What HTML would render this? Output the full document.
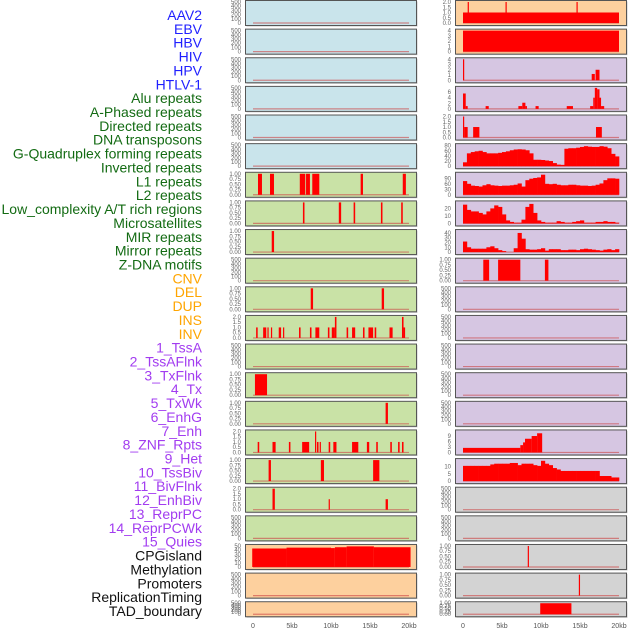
<!DOCTYPE html>
<html><head><meta charset="utf-8">
<style>
html,body{margin:0;padding:0;background:#fff;}
svg{display:block;font-family:"Liberation Sans",sans-serif;}
</style></head>
<body>
<svg id="chart" width="630" height="630" viewBox="0 0 630 630" xmlns="http://www.w3.org/2000/svg"></svg>
<script>
const labels = ["AAV2","EBV","HBV","HIV","HPV","HTLV-1","Alu repeats","A-Phased repeats","Directed repeats","DNA transposons","G-Quadruplex forming repeats","Inverted repeats","L1 repeats","L2 repeats","Low_complexity A/T rich regions","Microsatellites","MIR repeats","Mirror repeats","Z-DNA motifs","CNV","DEL","DUP","INS","INV","1_TssA","2_TssAFlnk","3_TxFlnk","4_Tx","5_TxWk","6_EnhG","7_Enh","8_ZNF_Rpts","9_Het","10_TssBiv","11_BivFlnk","12_EnhBiv","13_ReprPC","14_ReprPCWk","15_Quies","CPGisland","Methylation","Promoters","ReplicationTiming","TAD_boundary"];
const labelGroups = [6,13,5,15,5];
const groupColors = ["#1f1fff","#136b13","#ffa500","#a23cf0","#111111"];
const xTicks = [0,5,10,15,20];
const xTickLabels = ["0","5kb","10kb","15kb","20kb"];
const leftBg = ["b","b","b","b","b","b","g","g","g","g","g","g","g","g","g","g","g","g","g","o","o","o"];
const rightBg = ["o","o","p","p","p","p","p","p","p","p","p","p","p","p","p","p","p","g2","g2","g2","g2","g2"];
// ticks per panel: [max, tick values, tick labels]
const T500 = [500,[0,100,200,300,400,500],["0","100","200","300","400","500"]];
const T1 = [1,[0,0.25,0.5,0.75,1],["0.00","0.25","0.50","0.75","1.00"]];
const T2 = [2,[0,0.5,1,1.5,2],["0.0","0.5","1.0","1.5","2.0"]];
// left column intervals [startKb, endKb, value]
const leftTicks = [T500,T500,T500,T500,T500,T500,T1,T1,T1,T500,T1,T2,T500,T1,T1,T2,T1,T2,T500,[50,[0,10,20,30,40,50],["0","10","20","30","40","50"]],T500,T500];
const leftBars = [[],[],[],[],[],[],
 [[0.64,1.15,1],[2.18,2.69,1],[6.0,6.7,1],[6.8,7.3,1],[7.6,8.5,1],[13.8,14.1,1],[19.2,19.6,1]],
 [[6.4,6.6,1],[11.0,11.3,1],[12.9,13.1,1],[16.4,16.6,1],[19.0,19.2,1]],
 [[2.4,2.7,1]],
 [],
 [[7.4,7.7,1],[16.5,16.8,1]],
 [[0.4,0.6,1],[1.3,1.7,1],[1.85,2.0,1],[2.3,2.45,1],[3.3,3.6,1],[3.85,4.0,1],[5.9,6.1,1],[7.3,7.5,1],[8.0,8.5,1],[9.6,9.8,1],[10.1,10.5,1],[10.5,10.7,2],[12.0,12.2,1],[12.7,13.1,1],[14.1,14.3,1],[14.8,15.4,1],[15.6,15.8,1],[17.5,17.9,1],[19.1,19.3,2],[19.3,19.5,1]],
 [],
 [[0.25,1.8,1]],
 [[17.0,17.3,1]],
 [[0.6,0.8,1],[2.5,2.9,1],[4.6,4.8,1],[6.3,7.2,1],[7.95,8.1,2],[8.2,8.4,1],[8.55,8.7,1],[9.7,9.9,1],[10.3,10.7,1],[12.7,13.5,1],[14.6,14.9,1],[15.8,16.0,1],[17.6,17.8,1],[18.6,18.8,1],[19.1,19.3,1]],
 [[2.0,2.3,1],[8.7,9.1,1],[15.4,16.2,1]],
 [[2.5,2.8,2],[9.7,9.85,1],[17.0,17.3,1]],
 [],
 [[-0.1,4.3,44],[4.3,10.0,46],[10.0,10.5,45],[10.5,12.0,47],[12.0,15.5,49],[15.5,20.2,47]],
 [],[]];
// right column
const rightTicks = [T2,[4,[0,1,2,3,4],["0","1","2","3","4"]],[4,[0,1,2,3,4],["0","1","2","3","4"]],[7.5,[0,2,4,6],["0","2","4","6"]],T2,
 [82,[0,20,40,60,80],["0","20","40","60","80"]],[115,[0,30,60,90],["0","30","60","90"]],[28,[0,10,20],["0","10","20"]],[44,[0,10,20,30,40],["0","10","20","30","40"]],T1,T500,T500,T500,T500,T500,
 [11.5,[0,3,6,9],["0","3","6","9"]],[14.5,[0,5,10],["0","5","10"]],T500,T500,T1,T1,T1];
const rightBars = [
 [[0,20,1],[0.6,0.75,2],[5.45,5.6,2],[14.55,14.7,2]],
 [[0,20,4]],
 [[0,0.15,4],[16.5,16.9,1.2],[17.0,17.5,2]],
 [[0,0.35,5.5],[0.35,0.6,1],[2.9,3.3,1],[7.1,7.6,1],[7.6,8.0,2.2],[8.0,8.2,1],[9.3,9.7,1],[13.3,14.1,1],[16.3,16.7,1],[16.7,16.9,4],[16.9,17.2,7.5],[17.2,17.5,7],[17.5,17.7,4],[17.7,18.1,1]],
 [[0,0.15,2],[0.15,0.6,1],[1.3,2.1,1],[17.05,17.8,1]],
 [],[],[],[],
 [[2.6,3.35,1],[4.5,7.35,1],[10.5,10.95,1]],
 [],[],[],[],[],
 [[0,7.35,2.5],[7.35,7.7,4],[7.7,7.95,5.5],[7.95,8.8,7.5],[8.8,9.5,9],[9.5,10.15,10.5]],
 [],[],[],
 [[8.3,8.45,1]],
 [[14.85,15.0,1]],
 [[9.9,13.9,1]]];
// binned profiles (0.5kb bins from 0 to 20kb)
const gquadProfile = [15,50,55,58,60,55,50,50,50,52,55,58,62,65,66,65,62,50,25,25,24,22,20,12,6,5,68,70,70,72,75,78,76,75,75,78,76,70,48,38];
const l1Profile = [75,60,50,48,45,52,58,52,50,48,50,50,52,55,62,45,80,88,92,95,110,60,58,60,55,52,52,55,55,52,50,50,48,50,55,62,80,90,90,88];
const lowCompProfile = [25,18,16,16,14,12,16,20,24,22,12,4,2,1,1,5,22,26,14,4,2,1,1,1,3,2,1,1,2,3,4,1,1,1,2,2,3,2,2,1];
const mirProfile = [22,10,7,7,7,7,10,12,8,4,2,0,0,8,40,28,6,5,5,6,8,3,6,6,6,4,4,5,5,4,6,7,6,5,4,3,5,6,4,6];
const tssBivProfile = [10.5,10.5,10.5,10.5,10.5,10.5,10.5,11.5,12,12,12,12,12.5,12.5,11,12,12,12,11,10.5,14,12,11,9,8,7,7,7,7,7,7,7,7,7,7,3.5,3.5,3.5,2.5,2.5];
const rightProfiles = {5:gquadProfile,6:l1Profile,7:lowCompProfile,8:mirProfile,16:tssBivProfile};

const bgColors = {b:"#c9e4eb",g:"#c9e2a6",o:"#fdd09e",p:"#d6c6e2",g2:"#d3d3d3"};
const NS="http://www.w3.org/2000/svg";
const svg=document.getElementById('chart');
function mk(tag,attrs,parent){const e=document.createElementNS(NS,tag);for(const k in attrs)e.setAttribute(k,attrs[k]);(parent||svg).appendChild(e);return e;}

// row-label text
let gi=0,cnt=0;
labels.forEach((t,i)=>{
  while(cnt>=labelGroups[gi]){cnt-=labelGroups[gi];gi++;}
  cnt++;
  const e=mk('text',{x:202,y:(15+i*13.86+5).toFixed(1),'text-anchor':'end','font-size':'14',fill:groupColors[gi]});
  e.textContent=t;
  
  
});

const cols=[{x0:245.5,x1:416.5,z:253,bg:leftBg,ticks:leftTicks,bars:leftBars,tx:241,name:'left'},
            {x0:455.5,x1:626.5,z:463,bg:rightBg,ticks:rightTicks,bars:rightBars,tx:451,name:'right'}];
const kbPx=7.8;
function rowTop(i){return i*28.63;}
cols.forEach((c,ci)=>{
  for(let r=0;r<22;r++){
    const top=rowTop(r);
    const h=r===21?15:25;
    const yb=top+h-2, yt=top+2;
    const g=mk('g',{});
    
    
    mk('rect',{x:c.x0+1,y:top+1.5,width:c.x1-c.x0,height:h,fill:'#c8c8c8'},g);
    mk('rect',{x:c.x0,y:top+0.5,width:c.x1-c.x0,height:h,fill:bgColors[c.bg[r]],stroke:'#555',"stroke-width":1},g);
    const [max,tv,tl]=c.ticks[r];
    const yS=v=>yb-(v/max)*(yb-yt);
    const xS=kb=>c.z+kb*kbPx;
    tv.forEach((v,k)=>{
      const t=mk('text',{x:c.tx,y:(yS(v)+2).toFixed(1),'text-anchor':'end','font-size':'6',fill:'#666'},g);
      t.textContent=tl[k];
    });
    mk('line',{x1:xS(0),x2:xS(20),y1:yb,y2:yb,stroke:'#c44',"stroke-width":1.2,opacity:0.6},g);
    const prof=ci===1?rightProfiles[r]:null;
    if(prof){
      prof.forEach((v,k)=>{
        const b=mk('rect',{x:xS(k*0.5).toFixed(2),y:yS(v).toFixed(2),width:(0.5*kbPx+0.3).toFixed(2),height:(yb-yS(v)).toFixed(2),fill:'#ff0000'},g);
        
        
      });
    }
    c.bars[r].forEach(d=>{
      const b=mk('rect',{x:xS(d[0]).toFixed(2),y:yS(d[2]).toFixed(2),width:Math.max(1.2,xS(d[1])-xS(d[0])).toFixed(2),height:(yb-yS(d[2])).toFixed(2),fill:'#ff0000'},g);
      
      
    });
  }
  xTicks.forEach((v,k)=>{
    const t=mk('text',{x:c.z+v*kbPx,y:628,'text-anchor':'middle','font-size':'7',fill:'#555'});
    t.textContent=xTickLabels[k];
    
    
  });
});
</script>
</body></html>
